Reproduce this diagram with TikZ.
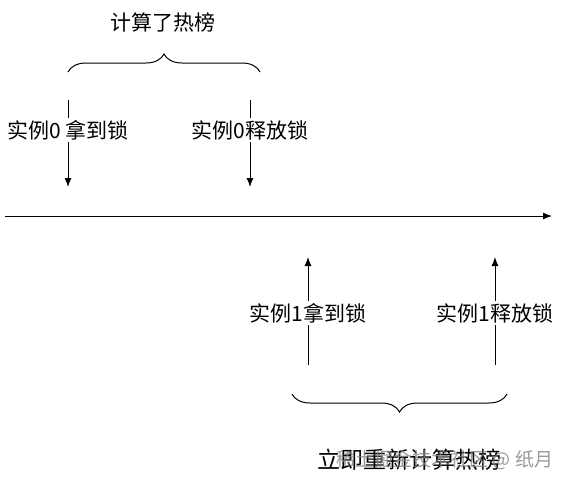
\documentclass[tikz,border=0pt]{standalone}
\usepackage{fontspec}
\setmainfont{Noto Sans CJK SC}
\usetikzlibrary{decorations.pathreplacing, arrows.meta}
\begin{document}
\begin{tikzpicture}[x=1pt, y=-1pt, >={Latex[length=9pt, width=7pt]}, line width=1pt]
        \tikzstyle{lbl}=[fill=white, inner sep=2pt, font=\fontsize{21}{24}\selectfont];
        \tikzstyle{brace}=[decorate, decoration={brace, amplitude=18pt}];
        \useasboundingbox (0,0) rectangle (575,488);

        % time line
        \coordinate (t0) at (5,216);
        \coordinate (t1) at (552,216);
        \draw[->] (t0) -- (t1);

        % instance 0
        \coordinate (get0top) at (68,100);
        \coordinate (get0tip) at (68,187);
        \coordinate (rel0top) at (250,100);
        \coordinate (rel0tip) at (250,187);
        \node[lbl] (get0) at (68,130) {实例0 拿到锁};
        \node[lbl] (rel0) at (250,130) {实例0释放锁};
        \draw (get0top) -- (get0);
        \draw[->] (get0) -- (get0tip);
        \draw (rel0top) -- (rel0);
        \draw[->] (rel0) -- (rel0tip);

        \coordinate (b0l) at (68,72);
        \coordinate (b0r) at (260,72);
        \draw[brace] (b0l) -- (b0r);
        \node[lbl] (calc0) at (163,22) {计算了热榜};

        % instance 1
        \coordinate (get1bot) at (308,365);
        \coordinate (get1tip) at (308,257);
        \coordinate (rel1bot) at (495,365);
        \coordinate (rel1tip) at (495,257);
        \node[lbl] (get1) at (308,313) {实例1拿到锁};
        \node[lbl] (rel1) at (495,313) {实例1释放锁};
        \draw (get1bot) -- (get1);
        \draw[->] (get1) -- (get1tip);
        \draw (rel1bot) -- (rel1);
        \draw[->] (rel1) -- (rel1tip);

        \coordinate (b1l) at (507,394);
        \coordinate (b1r) at (292,394);
        \draw[brace] (b1l) -- (b1r);
        \node[lbl, fill=none, font=\fontsize{23}{26}\selectfont] (calc1) at (409,460) {立即重新计算热榜};
        \node[font=\fontsize{19}{22}\selectfont, text=gray, opacity=0.8, anchor=east] (mark) at (557,460) {稀土掘金技术社区 @ 纸月};
    \end{tikzpicture}
\end{document}
